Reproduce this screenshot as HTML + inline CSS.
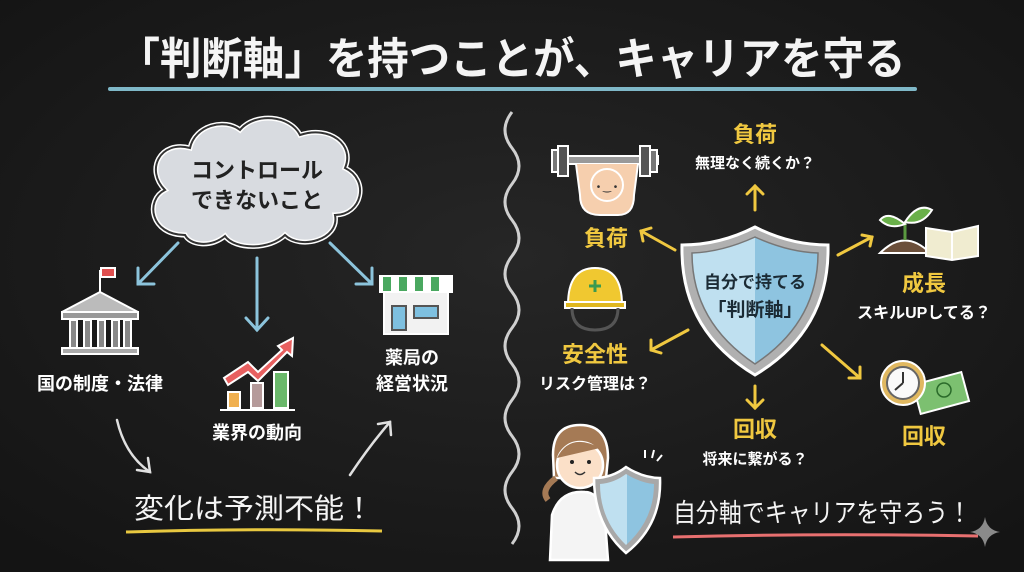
<!DOCTYPE html>
<html><head><meta charset="utf-8"><style>
html,body{margin:0;padding:0;background:#1b1b1b;}
svg{display:block}
text{font-family:"Liberation Sans","Noto Sans CJK JP",sans-serif;}
</style></head><body>
<svg width="1024" height="572" viewBox="0 0 1024 572" xmlns="http://www.w3.org/2000/svg">
<defs>
<radialGradient id="bg" cx="50%" cy="45%" r="70%"><stop offset="0" stop-color="#262626"/><stop offset="1" stop-color="#141414"/></radialGradient>
<marker id="ab" markerWidth="10" markerHeight="10" refX="5" refY="5" orient="auto" markerUnits="userSpaceOnUse"><path d="M-6,-4 L5,5 L-6,14" transform="translate(0,0)" fill="none"/></marker>
<linearGradient id="sh" x1="0" x2="1"><stop offset="0.5" stop-color="#bfe0f0"/><stop offset="0.5" stop-color="#8ec4e0"/></linearGradient>
</defs>
<rect width="1024" height="572" fill="url(#bg)"/>

<!-- title -->
<text x="512" y="74" text-anchor="middle" font-size="44" font-weight="bold" fill="#f4f4f4" textLength="787" lengthAdjust="spacingAndGlyphs">「判断軸」を持つことが、キャリアを守る</text>
<line x1="110" y1="89" x2="915" y2="89" stroke="#7fb8c8" stroke-width="4" stroke-linecap="round"/>

<!-- wavy divider -->
<path d="M512,112 q-14,18 0,36 q14,18 0,36 q-14,18 0,36 q14,18 0,36 q-14,18 0,36 q14,18 0,36 q-14,18 0,36 q14,18 0,36 q-14,18 0,36 q14,18 0,36 q-14,18 0,36 q14,18 0,36" fill="none" stroke="#cfcfcf" stroke-width="3"/>

<!-- cloud -->
<path d="M185,235 C150,235 145,200 165,190 C145,170 160,140 190,148 C195,125 225,118 240,130 C255,112 290,115 300,135 C330,125 355,145 345,168 C370,180 362,215 335,215 C340,240 300,250 285,235 C270,250 235,250 225,236 C210,248 190,245 185,235 Z" fill="#d8dbe0" stroke="#fff" stroke-width="5"/>
<path d="M185,235 C150,235 145,200 165,190 C145,170 160,140 190,148 C195,125 225,118 240,130 C255,112 290,115 300,135 C330,125 355,145 345,168 C370,180 362,215 335,215 C340,240 300,250 285,235 C270,250 235,250 225,236 C210,248 190,245 185,235 Z" fill="none" stroke="#333" stroke-width="2"/>
<text x="257" y="178" text-anchor="middle" font-size="22" font-weight="bold" fill="#222">コントロール</text>
<text x="257" y="208" text-anchor="middle" font-size="22" font-weight="bold" fill="#222">できないこと</text>

<!-- blue arrows -->
<g stroke="#8cc4dc" stroke-width="3" fill="none" stroke-linecap="round">
<line x1="178" y1="243" x2="138" y2="284"/><path d="M138,268 L138,284 L154,284"/>
<line x1="257" y1="258" x2="257" y2="330"/><path d="M246,318 L257,330 L268,318"/>
<line x1="330" y1="243" x2="372" y2="284"/><path d="M356,284 L372,284 L372,268"/>
</g>

<!-- bank -->
<g stroke="#fff" stroke-width="2">
<line x1="100" y1="270" x2="100" y2="292"/>
<rect x="101" y="268" width="14" height="9" fill="#e05050"/>
<path d="M62,312 L100,292 L138,312 Z" fill="#bbb"/>
<rect x="62" y="312" width="76" height="7" fill="#999"/>
<g fill="#888"><rect x="70" y="320" width="7" height="28"/><rect x="84" y="320" width="7" height="28"/><rect x="98" y="320" width="7" height="28"/><rect x="112" y="320" width="7" height="28"/><rect x="124" y="320" width="7" height="28"/></g>
<rect x="62" y="348" width="76" height="6" fill="#aaa"/>
</g>
<text x="100" y="390" text-anchor="middle" font-size="18" font-weight="bold" fill="#fff">国の制度・法律</text>

<!-- chart -->
<g stroke="#fff" stroke-width="2">
<rect x="228" y="392" width="12" height="16" fill="#f0b050"/>
<rect x="251" y="383" width="12" height="25" fill="#b59a9a"/>
<rect x="274" y="372" width="14" height="36" fill="#6ab86a"/>
<line x1="220" y1="410" x2="295" y2="410"/>
<path d="M224,378 L248,362 L258,372 L282,350 L278,346 L293,338 L292,356 L287,352 L258,381 L248,372 L228,385 Z" fill="#e86060"/>
</g>
<text x="257" y="439" text-anchor="middle" font-size="18" font-weight="bold" fill="#fff">業界の動向</text>

<!-- store -->
<g stroke="#fff" stroke-width="2">
<rect x="384" y="290" width="64" height="44" fill="#f2f2f2"/>
<path d="M380,276 L452,276 L452,292 L380,292 Z" fill="#fff"/>
<g fill="#4aa860" stroke="none"><rect x="383" y="277" width="8" height="14"/><rect x="399" y="277" width="8" height="14"/><rect x="415" y="277" width="8" height="14"/><rect x="431" y="277" width="8" height="14"/></g>
<rect x="392" y="306" width="14" height="24" fill="#7ec0e0" stroke="#555"/>
<rect x="414" y="306" width="24" height="12" fill="#7ec0e0" stroke="#555"/>
</g>
<text x="412" y="364" text-anchor="middle" font-size="18" font-weight="bold" fill="#fff">薬局の</text>
<text x="412" y="390" text-anchor="middle" font-size="18" font-weight="bold" fill="#fff">経営状況</text>

<!-- curved white arrows -->
<g stroke="#e0e0e0" stroke-width="2.5" fill="none" stroke-linecap="round">
<path d="M117,420 Q125,455 150,472"/><path d="M137,470 L150,472 L148,458"/>
<path d="M350,475 Q370,445 390,422"/><path d="M378,424 L390,422 L391,435"/>
</g>
<text x="254" y="518" text-anchor="middle" font-size="28" fill="#f4f4f4" textLength="240" lengthAdjust="spacingAndGlyphs">変化は予測不能！</text>
<path d="M126,532 Q250,528 382,531" stroke="#e8c840" stroke-width="3" fill="none"/>

<!-- shield -->
<path d="M755,227 Q790,245 828,245 Q830,330 755,375 Q680,330 682,245 Q720,245 755,227 Z" fill="#b0b0b0" stroke="#fff" stroke-width="3"/>
<path d="M755,237 Q788,252 818,253 Q818,322 755,364 Q692,322 692,253 Q722,252 755,237 Z" fill="url(#sh)" stroke="#777" stroke-width="1.5"/>
<text x="755" y="288" text-anchor="middle" font-size="17" font-weight="bold" fill="#1b2b35">自分で持てる</text>
<text x="755" y="316" text-anchor="middle" font-size="19" font-weight="bold" fill="#1b2b35">「判断軸」</text>

<!-- yellow arrows -->
<g stroke="#f0c840" stroke-width="3" fill="none" stroke-linecap="round">
<line x1="755" y1="210" x2="755" y2="186"/><path d="M747,194 L755,186 L763,194"/>
<line x1="675" y1="250" x2="641" y2="231"/><path d="M643,241 L641,231 L651,228"/>
<line x1="688" y1="330" x2="651" y2="350"/><path d="M651,340 L651,350 L661,353"/>
<line x1="838" y1="255" x2="872" y2="237"/><path d="M862,235 L872,237 L870,246"/>
<line x1="822" y1="345" x2="860" y2="378"/><path d="M849,378 L860,378 L860,367"/>
<line x1="755" y1="386" x2="755" y2="408"/><path d="M747,400 L755,408 L763,400"/>
</g>

<text x="755" y="142" text-anchor="middle" font-size="22" font-weight="bold" fill="#f0c840">負荷</text>
<text x="755" y="168" text-anchor="middle" font-size="15" font-weight="bold" fill="#fff">無理なく続くか？</text>

<!-- weightlifter -->
<g stroke="#fff" stroke-width="2">
<rect x="552" y="150" width="7" height="22" fill="#777"/><rect x="558" y="146" width="10" height="30" fill="#555"/>
<rect x="568" y="156" width="90" height="8" fill="#999"/>
<rect x="640" y="146" width="10" height="30" fill="#555"/><rect x="650" y="150" width="7" height="22" fill="#777"/>
<path d="M576,164 L580,195 Q580,215 600,215 L618,215 Q634,215 634,195 L638,164" fill="#f6cfae"/>
<circle cx="607" cy="185" r="16" fill="#f6cfae"/>
</g>
<text x="607" y="190" text-anchor="middle" font-size="10" fill="#333">• ‿ •</text>
<text x="606" y="246" text-anchor="middle" font-size="22" font-weight="bold" fill="#f0c840">負荷</text>

<!-- helmet -->
<g stroke="#fff" stroke-width="2">
<path d="M568,305 Q568,268 595,268 Q622,268 622,305 Z" fill="#f0c830"/>
<rect x="565" y="302" width="60" height="6" fill="#e0b820"/>
<path d="M572,308 Q572,330 595,330 Q618,330 618,308" fill="none" stroke="#555" stroke-width="3"/>
</g>
<path d="M595,280 v12 M589,286 h12" stroke="#3a9a50" stroke-width="3"/>
<text x="595" y="362" text-anchor="middle" font-size="22" font-weight="bold" fill="#f0c840">安全性</text>
<text x="595" y="389" text-anchor="middle" font-size="16" font-weight="bold" fill="#fff">リスク管理は？</text>

<!-- seedling + book -->
<g stroke="#fff" stroke-width="2">
<path d="M880,253 Q905,228 930,253 Z" fill="#6b4f3a"/>
<path d="M905,240 V222" stroke="#5a9a40" stroke-width="3"/>
<path d="M905,224 Q888,210 880,220 Q890,230 905,224 Z" fill="#6ab04a"/>
<path d="M905,222 Q918,202 932,210 Q922,226 905,222 Z" fill="#6ab04a"/>
<path d="M926,228 L952,232 L978,226 L978,256 L952,260 L926,256 Z" fill="#f0ecd0"/>
<line x1="952" y1="232" x2="952" y2="260"/>
</g>
<text x="924" y="291" text-anchor="middle" font-size="22" font-weight="bold" fill="#f0c840">成長</text>
<text x="924" y="318" text-anchor="middle" font-size="16" font-weight="bold" fill="#fff">スキルUPしてる？</text>

<!-- clock + money -->
<g stroke="#fff" stroke-width="2">
<rect x="916" y="378" width="50" height="30" fill="#7cc070" transform="rotate(-15 941 393)"/>
<circle cx="903" cy="383" r="22" fill="#e0b860"/>
<circle cx="903" cy="383" r="16" fill="#fafafa" stroke="#666"/>
</g>
<path d="M903,383 V372 M903,383 L895,390" stroke="#333" stroke-width="2"/>
<circle cx="944" cy="390" r="7" fill="none" stroke="#2a6a2a" stroke-width="1.5"/>
<text x="924" y="444" text-anchor="middle" font-size="22" font-weight="bold" fill="#f0c840">回収</text>

<text x="755" y="437" text-anchor="middle" font-size="22" font-weight="bold" fill="#f0c840">回収</text>
<text x="755" y="464" text-anchor="middle" font-size="15" font-weight="bold" fill="#fff">将来に繋がる？</text>

<!-- woman -->
<g stroke="#fff" stroke-width="2.5">
<path d="M550,560 L552,515 Q560,490 585,492 Q600,492 605,520 L608,560 Z" fill="#f4f4f4"/>
<path d="M553,455 Q553,425 580,425 Q608,425 608,458 L606,478 L554,478 Z" fill="#a57a55"/>
<path d="M556,478 Q540,490 548,500" fill="none" stroke="#a57a55" stroke-width="6"/>
<circle cx="580" cy="465" r="23" fill="#fbe0c8"/>
<path d="M557,458 Q570,432 600,448" fill="#a57a55" stroke="none"/>
</g>
<circle cx="572" cy="462" r="2" fill="#222"/><circle cx="589" cy="462" r="2" fill="#222"/>
<path d="M575,472 Q580,477 585,472" stroke="#333" stroke-width="1.5" fill="none"/>
<path d="M626,467 Q643,478 660,478 Q662,525 626,553 Q594,525 594,478 Q612,478 626,467 Z" fill="#a8a8a8" stroke="#fff" stroke-width="2.5"/>
<path d="M626,474 Q641,483 654,484 Q654,520 626,545 Q600,520 600,484 Q614,483 626,474 Z" fill="url(#sh)"/>
<g stroke="#fff" stroke-width="2" fill="none"><path d="M645,450 v8"/><path d="M654,450 l-2,8"/><path d="M662,455 l-5,6"/></g>
<text x="822" y="522" text-anchor="middle" font-size="26" fill="#f4f4f4" textLength="298" lengthAdjust="spacingAndGlyphs">自分軸でキャリアを守ろう！</text>
<path d="M673,537 Q820,533 978,536" stroke="#e87070" stroke-width="3" fill="none"/>
<path d="M985,517 Q987,530 1000,532 Q987,534 985,547 Q983,534 970,532 Q983,530 985,517 Z" fill="#8a8a8a"/>
</svg>
</body></html>
